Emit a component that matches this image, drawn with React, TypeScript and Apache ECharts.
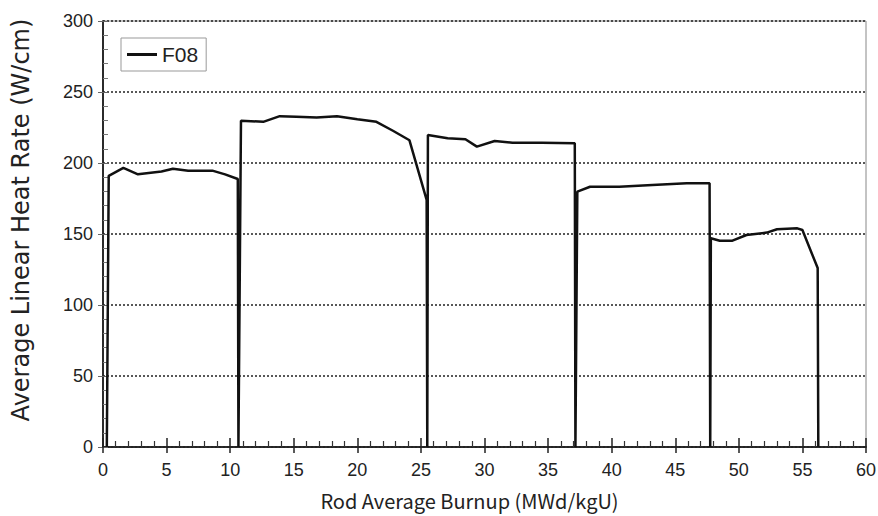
import React, { useEffect, useRef } from "react";
import * as echarts from "echarts";

const burnup = [0.3, 0.45, 1.6, 2.75, 4.6, 5.5, 6.7, 8.6, 9.6, 10.6, 10.65, 10.85, 12.6, 13.9, 15.2, 16.8, 18.4, 20.0, 21.5, 22.8, 24.1, 25.45, 25.5, 25.55, 27.1, 28.5, 29.4, 30.8, 32.2, 34.5, 37.1, 37.15, 37.3, 38.3, 40.6, 43.2, 45.9, 47.7, 47.75, 47.8, 48.5, 49.5, 50.6, 52.2, 53.0, 54.6, 55.0, 56.2, 56.25];
const heatRate = [0, 191, 196.5, 192, 194, 196, 194.6, 194.6, 192, 188.7, 0, 229.8, 229, 233, 232.6, 232, 233, 230.8, 229, 222.7, 216, 174, 0, 219.7, 217.4, 216.7, 211.5, 215.5, 214.3, 214.3, 213.9, 0, 179.8, 183.3, 183.3, 184.5, 185.7, 185.7, 0, 147, 145.3, 145.3, 149.3, 151, 153.3, 154, 152.8, 126, 0];
const seriesName = "F08";
const xTitle = "Rod Average Burnup (MWd/kgU)";
const yTitle = "Average Linear Heat Rate (W/cm)";

export default function App() {
  const ref = useRef<HTMLDivElement>(null);
  useEffect(() => {
    document.body.style.margin = "0";
    const chart = echarts.init(ref.current!, null, { renderer: "svg" });
    const labelFont = { color: "#222", fontSize: 18, fontFamily: "Liberation Sans, Arial, sans-serif" };
    chart.setOption({
      animation: false,
      backgroundColor: "#fff",
      grid: { left: 103, right: 12, top: 21, bottom: 69, show: true, borderColor: "#888", borderWidth: 1, outerBoundsMode: "none", containLabel: false },
      legend: {
        left: 121, top: 38, orient: "vertical",
        data: [{ name: seriesName, icon: "rect" }],
        itemWidth: 30, itemHeight: 3, itemGap: 6,
        padding: [6, 8, 6, 6],
        borderColor: "#999", borderWidth: 1, borderRadius: 0,
        textStyle: { fontSize: 21, color: "#222", fontFamily: "Liberation Sans, Arial, sans-serif" },
      },
      xAxis: [
        {
          type: "value", min: 0, max: 60, interval: 5, position: "bottom",
          name: xTitle, nameLocation: "middle", nameGap: 43,
          nameTextStyle: { fontSize: 20, lineHeight: 20, color: "#222", fontFamily: "Noto Sans CJK JP, sans-serif", padding: [0, 30, 0, 0] },
          axisLine: { show: true, lineStyle: { color: "#222", width: 1.5 } },
          axisTick: { show: true, inside: true, length: 9, lineStyle: { color: "#222", width: 1.5 } },
          minorTick: { show: true, splitNumber: 5, length: 6, lineStyle: { color: "#333", width: 1.2 } },
          axisLabel: { ...labelFont, margin: 14 },
          splitLine: { show: false },
        },
        {
          type: "value", min: 0, max: 60, interval: 5, position: "bottom", offset: 0,
          axisLine: { show: true, lineStyle: { color: "#222", width: 1.5 } },
          axisTick: { show: true, inside: false, length: 6, lineStyle: { color: "#222", width: 1.5 } },
          axisLabel: { show: false },
          splitLine: { show: false },
        },
      ],
      yAxis: [
        {
          type: "value", min: 0, max: 300, interval: 50, position: "left",
          name: yTitle, nameLocation: "middle", nameGap: 70,
          nameTextStyle: { fontSize: 24, color: "#222", fontFamily: "DejaVu Sans, sans-serif", padding: [0, 0, 0, 28] },
          axisLine: { show: true, lineStyle: { color: "#222", width: 1.5 } },
          axisTick: { show: true, inside: true, length: 5, lineStyle: { color: "#666", width: 1 } },
          minorTick: { show: true, splitNumber: 5, length: 5, lineStyle: { color: "#777", width: 1 } },
          axisLabel: { ...labelFont, margin: 10 },
          splitLine: { show: true, lineStyle: { color: "#222", width: 1.5, type: [2, 2] } },
        },
        {
          type: "value", min: 0, max: 300, interval: 50, position: "left", offset: 0,
          axisLine: { show: true, lineStyle: { color: "#222", width: 1.5 } },
          axisTick: { show: true, inside: false, length: 5, lineStyle: { color: "#666", width: 1 } },
          axisLabel: { show: false },
          splitLine: { show: false },
        },
      ],
      series: [
        {
          name: seriesName, type: "line", xAxisIndex: 0, yAxisIndex: 0,
          showSymbol: false, symbol: "none",
          lineStyle: { color: "#111", width: 2.5 },
          itemStyle: { color: "#111" },
          data: burnup.map((b, i) => [b, heatRate[i]]),
        },
        {
          name: "ticks", type: "line", xAxisIndex: 1, yAxisIndex: 1,
          showSymbol: false, symbol: "none", data: [],
        },
      ],
    });
    return () => chart.dispose();
  }, []);
  return <div ref={ref} style={{ width: 878, height: 516 }} />;
}
